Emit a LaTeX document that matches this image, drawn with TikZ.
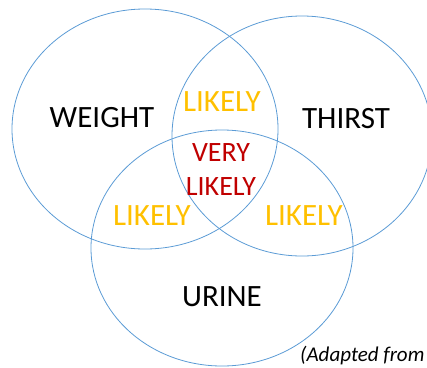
\documentclass[tikz,border=0pt]{standalone}
\usepackage{fontspec}
\setmainfont{Carlito}
\usepackage{xcolor}
\usetikzlibrary{positioning}
\definecolor{vennazul}{RGB}{91,155,213}
\definecolor{probable}{RGB}{255,192,0}
\definecolor{muyprob}{RGB}{192,0,0}

\begin{document}
\begin{tikzpicture}[x=1pt,y=-1pt,
                    conjunto/.style={draw=vennazul,line width=0.8pt},
                    rotulo/.style={inner sep=0pt,font=\fontsize{31}{34}\selectfont},
                    prob/.style={rotulo,text=probable},
                    muy/.style={inner sep=0pt,align=center,text=muyprob,font=\fontsize{28}{34}\selectfont}]
  \useasboundingbox (0,0) rectangle (427,367);
  % conjuntos
  \draw[conjunto] (145,129) ellipse [x radius=133,y radius=120];
  \draw[conjunto] (302,136) ellipse [x radius=130,y radius=120];
  \draw[conjunto] (222,248) ellipse [x radius=131,y radius=118];
  % rotulos
  \node[rotulo] (peso) at (102,118) {WEIGHT};
  \node[rotulo] (sed) at (346,119) {THIRST};
  \node[rotulo] (orina) at (222,297) {URINE};
  \node[prob] (pesosed) at (222,102) {LIKELY};
  \node[prob] (pesoorina) at (152,216) {LIKELY};
  \node[prob] (sedorina) at (304,216) {LIKELY};
  \node[muy] (todos) at (221,170) {VERY\\LIKELY};
  \node[anchor=base west,inner sep=0pt,font=\fontsize{21}{24}\selectfont\itshape] (fuente) at (300,361) {(Adapted from};
\end{tikzpicture}
\end{document}
